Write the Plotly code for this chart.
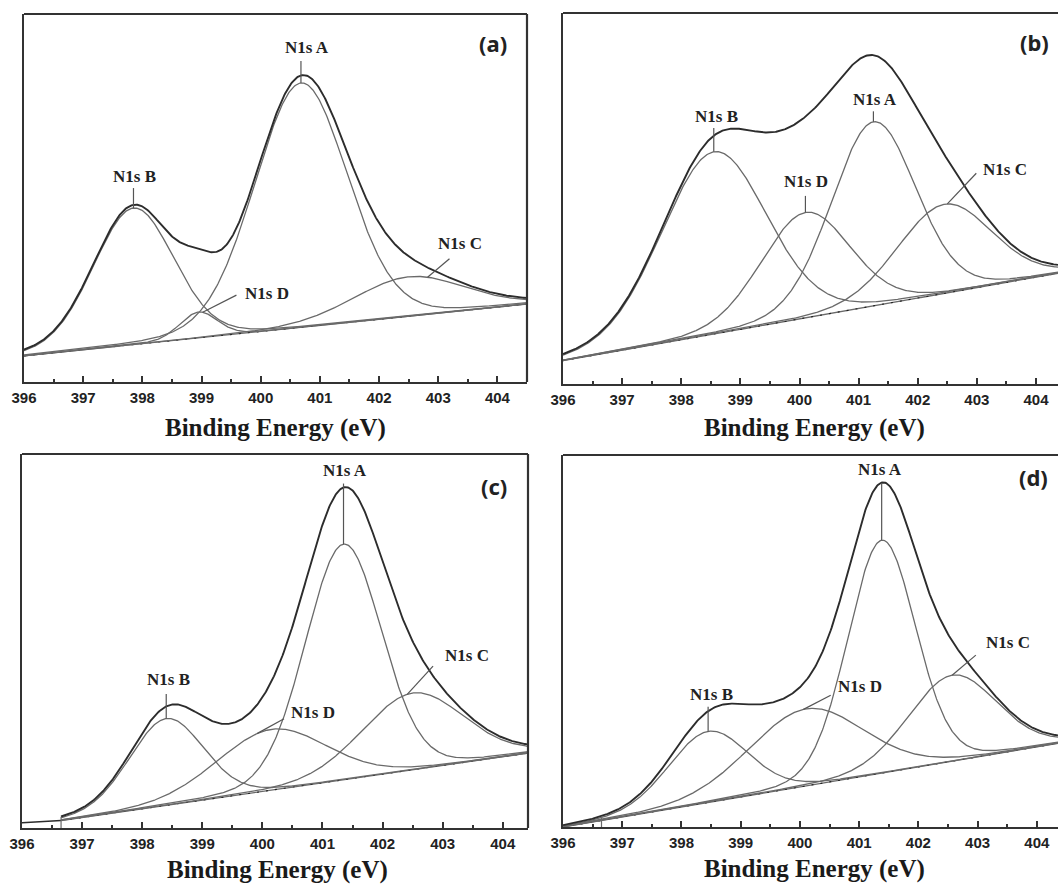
import numpy as np
import plotly.graph_objects as go

# ---------------------------------------------------------------------------
# N1s XPS curve-fit results for four samples (a)-(d).
# Component order in every list: N1s A, N1s B, N1s C, N1s D
# centre = binding energy (eV), height = intensity above background
# (fraction of the frame height), fwhm = full width at half maximum (eV)
# ---------------------------------------------------------------------------
components = ["N1s A", "N1s B", "N1s C", "N1s D"]
panel_tags = ["(a)", "(b)", "(c)", "(d)"]

center_a = [400.68, 397.85, 402.50, 398.95]
height_a = [0.664, 0.371, 0.107, 0.070]
fwhm_a = [1.85, 1.60, 2.20, 0.75]

center_b = [401.25, 398.55, 402.45, 400.10]
height_b = [0.496, 0.491, 0.240, 0.284]
fwhm_b = [1.68, 2.10, 1.88, 1.77]

center_c = [401.35, 398.40, 402.50, 400.15]
height_c = [0.630, 0.232, 0.205, 0.1625]
fwhm_c = [1.50, 1.45, 1.99, 2.14]

center_d = [401.38, 398.45, 402.57, 400.10]
height_d = [0.626, 0.191, 0.231, 0.207]
fwhm_d = [1.35, 1.58, 1.76, 2.28]

# linear background: start energy, start level, end energy, end level
background_a = [396.00, 0.071, 404.50, 0.212]
background_b = [396.00, 0.063, 404.50, 0.302]
background_c = [396.65, 0.020, 404.45, 0.201]
background_d = [396.00, 0.000, 404.50, 0.229]

# measured signal left of the fitting window in (c)
lead_in_c_energy = [396.00, 396.65]
lead_in_c_level = [0.014, 0.020]

x_ticks = [396, 397, 398, 399, 400, 401, 402, 403, 404]
lorentz_fraction = 0.10

panels = [
    dict(center=center_a, height=height_a, fwhm=fwhm_a, bg=background_a),
    dict(center=center_b, height=height_b, fwhm=fwhm_b, bg=background_b),
    dict(center=center_c, height=height_c, fwhm=fwhm_c, bg=background_c),
    dict(center=center_d, height=height_d, fwhm=fwhm_d, bg=background_d),
]

# ---------------------------------------------------------------------------
# layout of the four frames (pixels) and axis windows
# ---------------------------------------------------------------------------
W, H = 1058, 885
frames = [
    dict(x=(24, 527), y=(14, 382), xr=(396.0, 404.5), right=True),
    dict(x=(563, 1058), y=(13, 384), xr=(396.0, 404.372), right=False),
    dict(x=(22, 528), y=(454, 828), xr=(396.0, 404.42), right=True),
    dict(x=(563, 1058), y=(455, 827), xr=(396.0, 404.357), right=False),
]
title_center_px = [428, 428, 870, 869]
fit_marker = [None, None, 396.65, 396.65]

# label placement: component -> (label x, label y, leader start x, leader start y, leader end x or None for peak)
label_layout = [
    {"N1s A": (400.79, 0.909, 400.68, 0.872, None),
     "N1s B": (397.86, 0.558, 397.85, 0.527, None),
     "N1s D": (400.10, 0.240, 399.59, 0.236, 399.02),
     "N1s C": (403.36, 0.376, 403.19, 0.335, 402.82)},
    {"N1s B": (398.60, 0.721, 398.55, 0.690, None),
     "N1s D": (400.11, 0.545, 400.10, 0.507, None),
     "N1s A": (401.28, 0.768, 401.25, 0.735, None),
     "N1s C": (403.48, 0.577, 402.99, 0.568, 402.50)},
    {"N1s A": (401.37, 0.955, 401.35, 0.921, None),
     "N1s B": (398.43, 0.396, 398.40, 0.358, None),
     "N1s D": (400.84, 0.310, 400.36, 0.292, 399.91),
     "N1s C": (403.40, 0.460, 402.84, 0.433, 402.41)},
    {"N1s A": (401.36, 0.960, 401.38, 0.924, None),
     "N1s B": (398.50, 0.357, 398.45, 0.323, None),
     "N1s D": (401.01, 0.378, 400.52, 0.354, 400.06),
     "N1s C": (403.52, 0.496, 402.97, 0.462, 402.57)},
]
tag_pos = [(403.93, 0.920), (403.97, 0.923), (403.85, 0.915), (403.95, 0.940)]

COMP_COLOR = "#6a6a6a"
ENV_COLOR = "#2c2c2c"
FRAME_COLOR = "#333333"


def peak(x, c, h, w, m=lorentz_fraction):
    r2 = ((x - c) / w) ** 2
    return h * ((1 - m) * np.exp(-4 * np.log(2) * r2) + m / (1 + 4 * r2))


def background(x, bg):
    e0, l0, e1, l1 = bg
    return l0 + (x - e0) * (l1 - l0) / (e1 - e0)


fig = go.Figure()
shapes = []
annotations = []

for i, (p, fr) in enumerate(zip(panels, frames)):
    n = "" if i == 0 else str(i + 1)
    xa, ya = f"x{n}", f"y{n}"
    x = np.linspace(p["bg"][0], fr["xr"][1], 600)
    base = background(x, p["bg"])

    comp_curves = [peak(x, c, h, w) for c, h, w in zip(p["center"], p["height"], p["fwhm"])]
    envelope = base + np.sum(comp_curves, axis=0)

    # background line with dark speckle from the measured points on it
    fig.add_trace(go.Scatter(x=x, y=base, mode="lines", xaxis=xa, yaxis=ya,
                             line=dict(color=COMP_COLOR, width=1.3), hoverinfo="skip", showlegend=False))
    fig.add_trace(go.Scatter(x=x, y=base, mode="lines", xaxis=xa, yaxis=ya,
                             line=dict(color="#1e1e1e", width=1.1, dash="2px,7px"),
                             hoverinfo="skip", showlegend=False))
    for name, cc in zip(components, comp_curves):
        fig.add_trace(go.Scatter(x=x, y=base + cc, mode="lines", xaxis=xa, yaxis=ya, name=name,
                                 line=dict(color=COMP_COLOR, width=1.3), hoverinfo="skip", showlegend=False))
    fig.add_trace(go.Scatter(x=x, y=envelope, mode="lines", xaxis=xa, yaxis=ya,
                             line=dict(color=ENV_COLOR, width=1.9), hoverinfo="skip", showlegend=False))

    if i == 2:
        fig.add_trace(go.Scatter(x=lead_in_c_energy, y=lead_in_c_level, mode="lines", xaxis=xa, yaxis=ya,
                                 line=dict(color=ENV_COLOR, width=1.6), hoverinfo="skip", showlegend=False))

    if fit_marker[i] is not None:
        xm = fit_marker[i]
        shapes.append(dict(type="line", xref=xa, yref=ya, x0=xm, x1=xm, y0=0,
                           y1=float(background(np.array(xm), p["bg"])) + 0.01,
                           line=dict(color=COMP_COLOR, width=1.2)))

    # axes
    dom_x = [fr["x"][0] / W, min(fr["x"][1] / W, 1.0)]
    dom_y = [1 - fr["y"][1] / H, 1 - fr["y"][0] / H]
    fig.layout[f"xaxis{n}"] = dict(
        domain=dom_x, range=list(fr["xr"]), anchor=ya,
        tickmode="array", tickvals=x_ticks, ticktext=[str(t) for t in x_ticks],
        ticks="inside", ticklen=6, tickwidth=1.6, tickcolor=FRAME_COLOR,
        minor=dict(ticks="inside", ticklen=3, tickwidth=1.6, tickcolor=FRAME_COLOR,
                   tickmode="array", tickvals=[t + 0.5 for t in x_ticks]),
        showline=True, linecolor=FRAME_COLOR, linewidth=2.2,
        showgrid=False, zeroline=False, fixedrange=True, automargin=False,
        tickfont=dict(family="Liberation Sans, Arial", size=15, color="#222222", weight="bold"),
        ticklabelstandoff=1,
    )
    fig.layout[f"yaxis{n}"] = dict(
        domain=dom_y, range=[0, 1], anchor=xa,
        showline=True, linecolor=FRAME_COLOR, linewidth=2.2, automargin=False,
        showticklabels=False, ticks="", showgrid=False, zeroline=False, fixedrange=True,
    )

    # top and right borders of the frame
    shapes.append(dict(type="line", xref=f"{xa} domain", yref=f"{ya} domain", x0=0, x1=1, y0=1, y1=1,
                       line=dict(color=FRAME_COLOR, width=2.2)))
    if fr["right"]:
        shapes.append(dict(type="line", xref=f"{xa} domain", yref=f"{ya} domain", x0=1, x1=1, y0=0, y1=1,
                           line=dict(color=FRAME_COLOR, width=2.2)))

    # component labels with leader lines
    for name, (lx, ly, sx, sy, ex) in label_layout[i].items():
        k = components.index(name)
        c, h, w = p["center"][k], p["height"][k], p["fwhm"][k]
        end_x = c if ex is None else ex
        end_y = float(background(np.array(end_x), p["bg"]) + peak(np.array(end_x), c, h, w))
        if ex is None:
            sx = c
        shapes.append(dict(type="line", xref=xa, yref=ya, x0=sx, y0=sy, x1=end_x, y1=end_y,
                           line=dict(color="#555555", width=1.2)))
        annotations.append(dict(xref=xa, yref=ya, x=lx, y=ly, text=f"<b>{name}</b>", showarrow=False,
                                font=dict(family="Liberation Serif, Times New Roman", size=17, color="#222222"),
                                xanchor="center", yanchor="middle"))

    tx, ty = tag_pos[i]
    annotations.append(dict(xref=xa, yref=ya, x=tx, y=ty, text=f"<b>{panel_tags[i]}</b>", showarrow=False,
                            font=dict(family="Noto Sans, Liberation Sans", size=22, color="#222222"),
                            xanchor="center", yanchor="middle"))

    # axis title, centred on the 396-404.5 eV window
    annotations.append(dict(xref=xa, yref="paper", x=400.25, y=1 - title_center_px[i] / H,
                            text="<b>Binding Energy (eV)</b>", showarrow=False,
                            font=dict(family="Liberation Serif, Times New Roman", size=25, color="#1a1a1a"),
                            xanchor="center", yanchor="middle"))

fig.update_layout(
    width=W, height=H,
    margin=dict(l=0, r=0, t=0, b=0, autoexpand=False),
    paper_bgcolor="white", plot_bgcolor="white",
    shapes=shapes, annotations=annotations,
    showlegend=False,
)

fig.write_html("out.html")
